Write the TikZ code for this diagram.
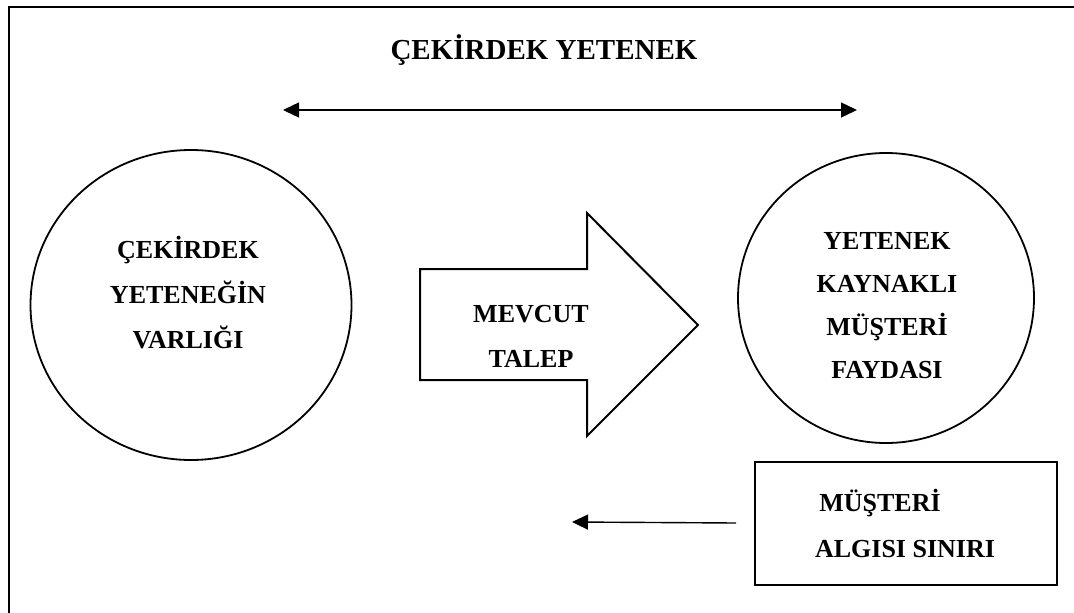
\documentclass[tikz,border=0pt]{standalone}
\usepackage{fontspec}
\setmainfont{Liberation Serif}
\usetikzlibrary{shapes.geometric,arrows.meta}

\begin{document}
\begin{tikzpicture}[x=1pt,y=-1pt,
  frame/.style={line width=2pt},
  bubble/.style={draw, ellipse, line width=1.8pt, inner sep=0pt},
  label/.style={font=\fontsize{26}{45}\selectfont\bfseries, align=center, inner sep=0pt},
  headline/.style={font=\fontsize{29}{34}\selectfont\bfseries, inner sep=0pt},
  link/.style={line width=1.4pt, -{Triangle[length=16pt,width=15pt]}},
  twoway/.style={line width=1.4pt, {Triangle[length=16pt,width=15pt]}-{Triangle[length=16pt,width=15pt]}},
  bigarrow/.style={draw, line width=2pt, line join=miter},
  boxed/.style={draw, rectangle, line width=2pt, minimum width=302pt, minimum height=123pt, inner sep=0pt}]

  \clip (0,0) rectangle (1074,613);
  \fill[white] (0,0) rectangle (1074,613);

  % outer frame, open to the right and bottom edges
  \draw[frame] (9,7) rectangle (1090,630);

  % heading and its two-way arrow
  \node[headline] (title) at (544,50) {ÇEKİRDEK YETENEK};
  \coordinate (spanL) at (283,110);
  \coordinate (spanR) at (857,110);
  \draw[twoway] (spanL) -- (spanR);

  % left bubble
  \node[bubble, minimum width=321pt, minimum height=310pt] (core) at (191,305) {};
  \node[label] (coretext) at (188,293) {ÇEKİRDEK\\YETENEĞİN\\VARLIĞI};

  % block arrow in the middle
  \coordinate (a1) at (420,269);
  \coordinate (a2) at (587,269);
  \coordinate (a3) at (587,213);
  \coordinate (a4) at (698,325);
  \coordinate (a5) at (587,436);
  \coordinate (a6) at (587,380);
  \coordinate (a7) at (420,380);
  \draw[bigarrow] (a1) -- (a2) -- (a3) -- (a4) -- (a5) -- (a6) -- (a7) -- cycle;
  \node[label] (demand) at (531,336) {MEVCUT\\TALEP};

  % right bubble
  \node[bubble, minimum width=296pt, minimum height=290pt] (benefit) at (886,298) {};
  \node[label, font=\fontsize{26}{43}\selectfont\bfseries] (benefittext) at (887,306) {YETENEK\\KAYNAKLI\\MÜŞTERİ\\FAYDASI};

  % box at lower right with its arrow
  \node[boxed] (limit) at (906,523) {};
  \node[label] (limit1) at (880,503) {MÜŞTERİ};
  \node[label] (limit2) at (905,549) {ALGISI SINIRI};
  \coordinate (limittip) at (572,522);
  \draw[link] ([xshift=-18pt]limit.west) -- (limittip);
\end{tikzpicture}
\end{document}
